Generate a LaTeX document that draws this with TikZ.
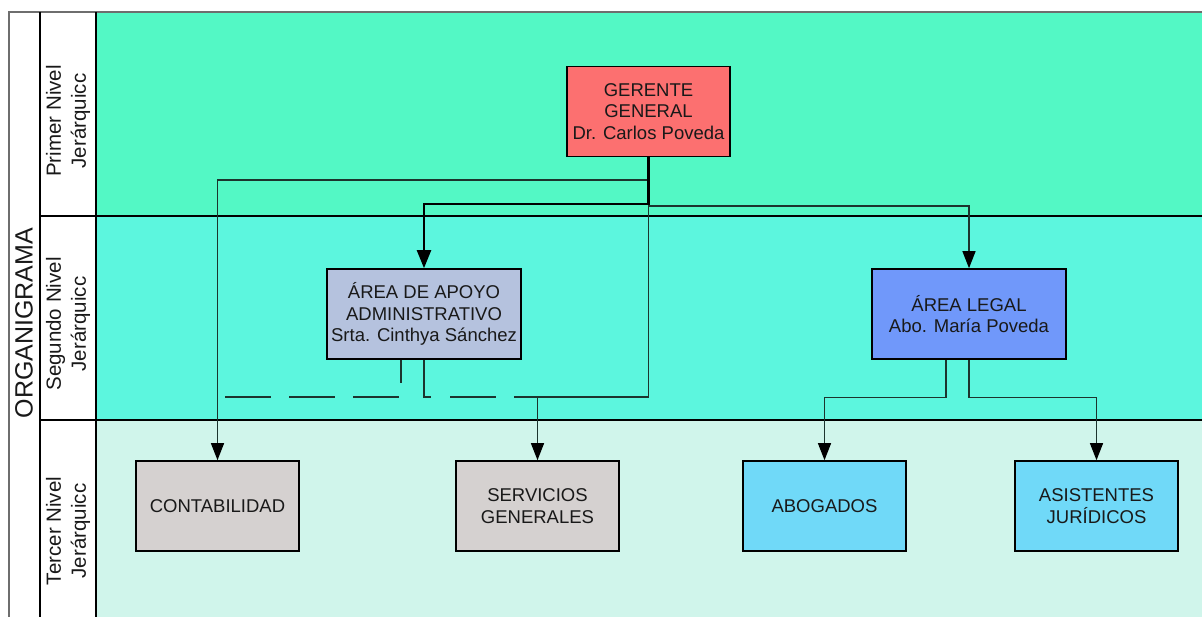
\documentclass[tikz,border=0pt]{standalone}
\usepackage{fontspec}
\setmainfont{Liberation Sans}
\usetikzlibrary{arrows.meta}
\definecolor{bandA}{RGB}{83,248,197}
\definecolor{bandB}{RGB}{92,246,222}
\definecolor{bandC}{RGB}{208,245,235}
\definecolor{gerfill}{RGB}{252,112,112}
\definecolor{apofill}{RGB}{181,194,222}
\definecolor{legfill}{RGB}{112,152,250}
\definecolor{grayfill}{RGB}{213,209,208}
\definecolor{cyanfill}{RGB}{112,217,248}
\definecolor{linecol}{RGB}{28,52,46}
\definecolor{txt}{RGB}{25,25,25}
\definecolor{frame}{RGB}{110,110,110}
\begin{document}
\begin{tikzpicture}[x=1pt,y=-1pt,
  unit/.style={draw=black,line width=1.6pt,inner sep=0pt,align=center,
    text=txt,font=\fontsize{18.5}{21.5}\selectfont},
  wbox/.style={unit,minimum width=163pt,minimum height=90pt},
  mbox/.style={unit,minimum width=194pt,minimum height=90pt},
  conn/.style={draw=linecol,line width=1.2pt},
  tip/.style={-{Triangle[length=17pt,width=13pt,color=black,fill=black]}},
  bigtip/.style={-{Triangle[length=18pt,width=14pt,color=black,fill=black]}},
  lvl/.style={rotate=90,align=center,text=txt,font=\fontsize{20.5}{25}\selectfont},
  divider/.style={draw=black,line width=1.2pt}]
\useasboundingbox (0,0) rectangle (1202,617);
% level bands
\fill[white] (0,0) rectangle (1202,617);
\fill[bandA] (96,12) rectangle (1202,216);
\fill[bandB] (96,216) rectangle (1202,420);
\fill[bandC] (96,420) rectangle (1202,617);
% frame and column rules
\draw[frame,line width=1.2pt] (9,617) -- (9,12) -- (1202,12);
\draw[divider] (40,12) -- (40,617);
\draw[divider] (96,12) -- (96,617);
\draw[divider] (40,216) -- (1202,216);
\draw[divider] (40,420) -- (1202,420);
% labels of the left columns
\node[rotate=90,text=txt,font=\fontsize{25}{29}\selectfont] (title) at (24,323) {ORGANIGRAMA};
\node[lvl] (lv1) at (68,121) {Primer Nivel\\Jerárquicc};
\node[lvl] (lv2) at (68,324) {Segundo Nivel\\Jerárquicc};
\node[lvl] (lv3) at (68,531) {Tercer Nivel\\Jerárquicc};
% units
\node[wbox,fill=gerfill] (ger) at (648.5,111.5) {GERENTE\\GENERAL\\Dr. Carlos Poveda};
\node[mbox,fill=apofill] (apo) at (424,314) {ÁREA DE APOYO\\ADMINISTRATIVO\\Srta. Cinthya Sánchez};
\node[mbox,fill=legfill] (leg) at (969,314) {ÁREA LEGAL\\Abo. María Poveda};
\node[wbox,fill=grayfill] (con) at (217.5,506) {CONTABILIDAD};
\node[wbox,fill=grayfill] (ser) at (537.5,506) {SERVICIOS\\GENERALES};
\node[wbox,fill=cyanfill] (abo) at (824.5,506) {ABOGADOS};
\node[wbox,fill=cyanfill] (asi) at (1096.5,506) {ASISTENTES\\JURÍDICOS};
% junction points
\coordinate (jc) at (648.5,180);
\coordinate (ja) at (648.5,204);
\coordinate (jl) at (648.5,206);
\coordinate (js) at (648.5,397);
\coordinate (se) at (514,397);
\coordinate (d1) at (225,397);
\coordinate (d2) at (399,397);
\coordinate (d3) at (450,397);
\coordinate (d4) at (496,397);
\coordinate (ab) at (431,397);
% connectors from the general manager
\draw[conn] (ger.south) -- (js) -- (se);
\draw[conn,tip] (jc) -| (con.north);
\draw[conn,tip] (jl) -| (leg.north);
\draw[draw=black,line width=2.2pt,bigtip] (ger.south) -- (ja) -| (apo.north);
\draw[conn,tip] (ser.north |- js) -- (ser.north);
% administrative support links
\draw[conn] ([xshift=-23pt]apo.south) -- ++(0,23);
\draw[conn] (apo.south) |- (ab);
\draw[conn,dash pattern=on 46pt off 18pt] (d1) -- (d2);
\draw[conn] (d3) -- (d4);
% legal area links
\draw[conn,tip] ([xshift=-23pt]leg.south) -- ++(0,38) -| (abo.north);
\draw[conn,tip] (leg.south) -- ++(0,38) -| (asi.north);
\end{tikzpicture}
\end{document}
